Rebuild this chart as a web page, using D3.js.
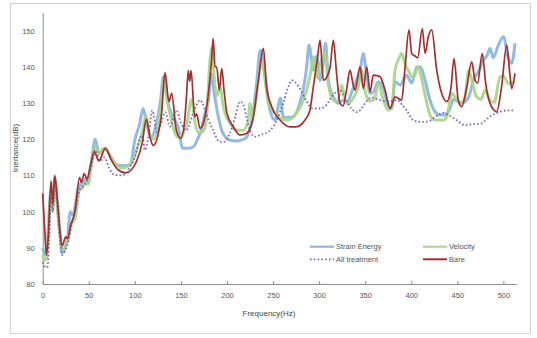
<!DOCTYPE html>
<html><head><meta charset="utf-8">
<script src="https://cdn.jsdelivr.net/npm/d3@7"></script>
<style>html,body{margin:0;padding:0;background:#fff;}svg{display:block;}</style>
</head><body><div id="chart"></div>
<script>
const xTicks = [0,50,100,150,200,250,300,350,400,450,500];
const yTicks = [80,90,100,110,120,130,140,150];
const seriesNames = ["Strain Energy","Velocity","All treatment","Bare"];

const strainEnergy = [[0,90],[2,88.5],[4,88],[6,95],[9,106],[11,101],[13,109.5],[16,102],[19,93],[21,88.5],[24,90],[27,93],[30,100],[33,99],[36,103],[40,107.5],[43,107],[46,109],[49,108],[53,114],[57,120],[61,116],[67,117.5],[73,115.5],[80,113],[88,112.7],[95,113],[100,119.8],[105,124],[109,128.5],[113,124],[118,120.7],[123,124],[128,131],[131,137.3],[134,133],[136,130],[140,127],[144,125],[147,123.4],[152,117.5],[158,117.5],[164,118],[168,120],[172,122.5],[176,127],[180,131],[183,138],[186,133],[190,127],[195,122],[203,119.8],[210,119.5],[216,119.8],[221,120.5],[227,125.3],[232,135],[236,144.6],[241,138],[246.7,128],[252,125.3],[258,131.3],[261,126.2],[266,126],[272,126.2],[279,129.9],[283,134],[286.5,140],[289,146],[293.7,139.1],[297.4,143],[301,136.3],[304,140],[307,146.5],[310,136.3],[315.4,131.7],[321,129.9],[326,130.8],[330,130],[335.4,133.1],[340,136],[344.4,139.1],[348,143.7],[351.7,137.3],[355.3,132.7],[359,133.1],[364.3,135.9],[370,134],[375,129.2],[378.8,128.5],[382.4,135.9],[388,135],[395,137.7],[400.5,135.5],[406,140],[410,140],[415,136.3],[420.4,130.8],[425.8,127.6],[431,126.7],[436,126.7],[442,128.5],[445.7,131],[451,130.4],[455,130],[462.4,131.7],[467.4,136.3],[472.8,138.7],[478.3,141.9],[482,143],[485.5,145.1],[489,142.5],[494.5,146],[500,148.3],[505.4,142.3],[509,141],[512.6,146.5]];

const velocity = [[0,88],[2,86.5],[4,87],[6,94],[9,105],[11,100],[13,109],[16,101],[19,93],[21,89.5],[24,90],[28,93],[31,96.5],[35,98],[40,106],[43,106.5],[46,108],[49,107.5],[53,113],[57,118],[61,116],[67,117.5],[75,114.5],[85,112],[95,113],[102,117],[108,122],[112,126.5],[116,121.5],[120,120],[125,123],[129,131],[132,136.3],[135,131],[138,127.1],[143.6,121.6],[147,120.5],[152,121.5],[156,123.9],[161.7,131],[165,125],[170,121.7],[175,122.5],[178,127],[181.6,141.9],[183.4,145.1],[187,134.5],[189,132],[192.4,134.5],[196,129],[203.3,124.4],[210.6,122.5],[217.7,122.5],[223,125.3],[225,129.9],[227,126],[231,130],[234,136.3],[237.7,141.9],[241,137],[245,129.9],[254,126.7],[264.8,125.3],[273.8,126.7],[282.8,130.8],[290,137.3],[294,142.8],[298,137],[301,141],[304.6,142.8],[306.4,144],[310,135.4],[315.4,130.8],[320,130.4],[324.5,135],[328,131],[331.7,129.9],[336,131],[342.5,134.5],[346.2,139.1],[350,133],[355.3,130.5],[360,131],[364.3,135.4],[369.7,130.8],[375,128],[379,129],[382.4,139.1],[386,142],[389.6,143.7],[393,141],[396.8,139],[402.3,137],[407,140],[410,138],[415,132.2],[420.4,126.7],[425.8,125.3],[434.8,125.3],[439,126.5],[444,132.7],[448,131.5],[453,130],[458,131.5],[462.4,139.1],[466,136],[471,131.7],[476,131],[480,133.6],[485.5,130.8],[490,130.2],[496.5,137.3],[500,137.5],[505.4,135.4],[512.6,135.9]];

const allTreatment = [[0,86],[2,85],[5,84.5],[7,92],[9,104],[11,100],[13,109],[16,101],[19,92],[21,88],[24,89],[28,92],[31,96],[35,100],[40,106],[44,107],[48,108.5],[53,113],[57,117],[62,114],[67,115],[72,112],[78,110.2],[85,110],[90,110.5],[95,112.5],[100,115],[105,120],[108,121],[111,117],[115,121],[119,128],[124,122],[128,124],[133,127.5],[138,123.5],[145,128],[150,124.5],[156,122.5],[163,127],[170.7,130.8],[180,125.3],[185,122.5],[192,119.3],[197,119.3],[203,121.6],[209,126.2],[214,130.4],[218,129.5],[221,126.2],[225,122.5],[230,120.7],[237,121.2],[247,122.5],[254,125.3],[261,129.9],[266.6,134.5],[270.3,136.3],[275,135.5],[281,133.1],[286.5,130.4],[293.7,128.5],[300,128.5],[306,129],[315,132.2],[322.7,133.6],[328,131.5],[335,128.5],[341,127.5],[346,128.5],[350,130],[357,131.5],[366,130.8],[375,130.5],[385,130.8],[390,129.5],[395,128],[402,125.3],[410,124.8],[418,124.9],[428,126.5],[435,127.3],[440,126.8],[449,125.3],[458.5,123.9],[467,124.2],[475,124.3],[485.5,126.3],[496.5,127.6],[505,128],[512.6,128]];

const bare = [[0,105],[2,96],[4,88],[6,93],[9,108.5],[11,102],[13,110],[16,103],[19,94],[21,90.5],[25,93],[27,92.5],[30,96],[35,100],[40,109.5],[42,108],[45,110.5],[48,109],[52,113],[56,116.5],[61,114],[68,117.5],[75,114],[82,111.5],[90,110.7],[96,111.5],[102,114],[108,119],[112.5,125.5],[116,121],[120,118.3],[125,121],[129,127],[132.7,138.4],[137,130.4],[140,132.7],[145,122.5],[150,120.3],[154,125],[156,131.7],[158,139],[159.5,136],[161,139],[165,126.2],[167,127],[170.7,123],[175,125],[180,133],[183,141],[185,147.9],[187,140],[188.8,140],[191.7,133.6],[194.3,139.6],[197,133],[200,127.1],[207,123.4],[214,121.2],[221,121.6],[228,125.3],[234,136.3],[239.5,145.1],[243,134.5],[248.5,129],[257.6,125.3],[268.4,123.4],[275,123.4],[284.7,125.3],[290,128],[293.7,134.5],[298,142],[301,147.4],[304.6,136.3],[309,137.5],[312,140],[315.4,147.4],[319,138],[322.7,129.9],[326,129.2],[330,134],[333.5,139.1],[337,135],[339,133.6],[344.4,140],[348,134],[351.7,140],[355.3,133.1],[358.8,137.7],[366,137.3],[371.5,133.6],[377,128.5],[382.4,131.7],[389.6,130.8],[393,139.1],[397.6,150.2],[400.5,143.7],[404,143],[407,142.5],[412,150.6],[415,143.7],[418.5,148.3],[422.2,150.2],[427.6,139.1],[433,132.7],[438.5,130.4],[443,134],[446.4,142.3],[451,130.8],[454.8,129],[460,134],[465.6,141.4],[469.2,136.3],[472,135.5],[477,143.7],[481,135],[485.5,129.9],[492.7,127.6],[498,134.5],[503.6,146],[507,138],[509,134],[512.6,138.2]];

const W = 537, H = 338;
const svg = d3.select("#chart").append("svg").attr("width", W).attr("height", H);
const font = "'Liberation Sans', Arial, sans-serif";

// outer frame
svg.append("rect").attr("x", 10.5).attr("y", 3.5).attr("width", 520).attr("height", 330)
  .attr("fill", "#fff").attr("stroke", "#d0d0d0").attr("stroke-width", 1);

const x = d3.scaleLinear().domain([0, 514]).range([42.7, 516.3]);
const y = d3.scaleLinear().domain([80, 155]).range([284, 12.6]);

// axes
const xAxis = d3.axisBottom(x).tickValues(xTicks).tickSizeInner(-3).tickSizeOuter(0).tickPadding(9);
const gx = svg.append("g").attr("transform", "translate(0,284)").call(xAxis);
gx.select(".domain").attr("stroke", "#8c8c8c");
gx.selectAll(".tick line").attr("stroke", "#8c8c8c");
gx.selectAll("text").attr("font-family", font).attr("font-size", 7.5).attr("fill", "#555");

const yAxis = d3.axisLeft(y).tickValues(yTicks).tickSize(0).tickPadding(8);
const gy = svg.append("g").attr("transform", "translate(42.7,0)").call(yAxis);
gy.select(".domain").attr("stroke", "#8c8c8c");
gy.selectAll("text").attr("font-family", font).attr("font-size", 7.5).attr("fill", "#555");

svg.append("text").attr("x", 269).attr("y", 316).attr("text-anchor", "middle")
  .attr("font-family", font).attr("font-size", 8).attr("fill", "#444").text("Frequency(Hz)");
svg.append("text").attr("transform", "translate(18,148) rotate(-90)").attr("text-anchor", "middle")
  .attr("font-family", font).attr("font-size", 8).attr("fill", "#444").text("Inertance(dB)");

const line = d3.line().x(d => x(d[0])).y(d => y(d[1])).curve(d3.curveMonotoneX);

const styles = [
  {data: strainEnergy, color: "#86b2df", width: 3, dash: null, op: 0.9},
  {data: velocity, color: "#a9d38a", width: 3, dash: null, op: 0.9},
  {data: allTreatment, color: "#7b66bd", width: 1.8, dash: "1.6,2.2", op: 1},
  {data: bare, color: "#a52f2f", width: 1.7, dash: null, op: 1}
];
styles.forEach(s => {
  const p = svg.append("path").datum(s.data).attr("d", line).attr("fill", "none")
    .attr("stroke", s.color).attr("stroke-width", s.width).attr("stroke-opacity", s.op)
    .attr("stroke-linejoin", "round");
  if (s.dash) p.attr("stroke-dasharray", s.dash);
});

// legend
const legPos = [[310, 246.7], [423, 246.7], [310, 259.3], [423, 259.3]];
seriesNames.forEach((n, i) => {
  const s = styles[i];
  const [lx, ly] = legPos[i];
  const l = svg.append("line").attr("x1", lx).attr("x2", lx + 24).attr("y1", ly).attr("y2", ly)
    .attr("stroke", s.color).attr("stroke-width", s.dash ? 1.8 : 2);
  if (s.dash) l.attr("stroke-dasharray", s.dash);
  svg.append("text").attr("x", lx + 26).attr("y", ly + 2.7).attr("font-family", font)
    .attr("font-size", 7.5).attr("fill", "#555").text(n);
});
</script></body></html>
